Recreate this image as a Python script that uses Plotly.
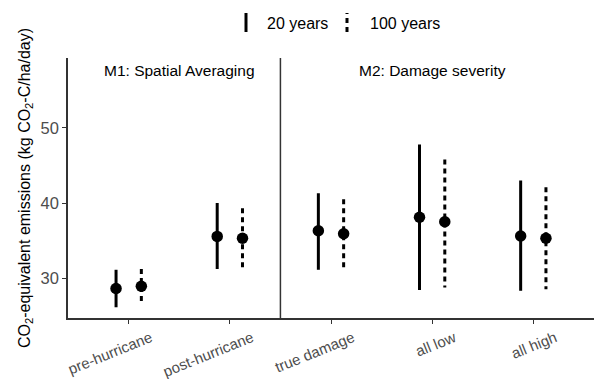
import plotly.graph_objects as go

categories = ["pre-hurricane", "post-hurricane", "true damage", "all low", "all high"]
horizons = ["20 years", "100 years"]

mean_20 = [28.6, 35.55, 36.3, 38.1, 35.6]
low_20 = [26.1, 31.2, 31.1, 28.4, 28.3]
high_20 = [31.1, 40.0, 41.3, 47.8, 43.0]

mean_100 = [28.9, 35.3, 35.9, 37.5, 35.3]
low_100 = [26.4, 31.2, 31.2, 28.75, 28.5]
high_100 = [31.2, 39.3, 40.5, 45.8, 42.1]

panel_labels = ["M1: Spatial Averaging", "M2: Damage severity"]
panel_centers = [1.5, 4.0]
panel_label_y = 57.7
divider_x = 2.5

dodge = 0.125
FONT = "Liberation Sans, Arial, sans-serif"

fig = go.Figure()

series = [
    (mean_20, low_20, high_20, -dodge, "solid"),
    (mean_100, low_100, high_100, dodge, "5px,4px"),
]

for means, lows, highs, off, dash in series:
    xs, ys = [], []
    for i, (lo, hi) in enumerate(zip(lows, highs)):
        xpos = i + 1 + off
        xs += [xpos, xpos, None]
        ys += [hi, lo, None]
    fig.add_trace(go.Scatter(x=xs, y=ys, mode="lines",
                             line=dict(color="black", width=3, dash=dash),
                             showlegend=False, hoverinfo="skip"))
    fig.add_trace(go.Scatter(x=[i + 1 + off for i in range(len(means))], y=means,
                             mode="markers",
                             marker=dict(color="black", size=11.5),
                             showlegend=False))

# panel divider
fig.add_shape(type="line", xref="x", yref="paper", x0=divider_x, x1=divider_x, y0=0, y1=1,
              line=dict(color="#333333", width=1.5))

for txt, cx in zip(panel_labels, panel_centers):
    fig.add_annotation(x=cx, y=panel_label_y, text=txt, showarrow=False,
                       font=dict(family=FONT, size=15.5, color="black"),
                       xanchor="center", yanchor="middle")

# manual legend (vertical keys as in the original)
W, H, L, T = 594, 379, 68, 58
PW, PH = W - L, 379 - 61 - T
def px(xp):
    return (xp - L) / PW
def py(yp):
    return (T + PH - yp) / PH

legend_keys = [(246, "solid", 265), (347, "5px,4px", 368)]
for (kx, dash, tx), lab in zip(legend_keys, horizons):
    fig.add_shape(type="line", xref="paper", yref="paper", x0=px(kx), x1=px(kx),
                  y0=py(32), y1=py(13), line=dict(color="black", width=3, dash=dash))
    fig.add_annotation(xref="paper", yref="paper", x=px(tx), y=py(23), text=lab,
                       showarrow=False, xanchor="left", yanchor="middle",
                       font=dict(family=FONT, size=16, color="black"))

fig.update_layout(
    width=W, height=H,
    margin=dict(l=L, r=0, t=T, b=61, autoexpand=False),
    plot_bgcolor="white", paper_bgcolor="white",
    font=dict(family=FONT, size=16, color="black"),
    showlegend=False,
)
fig.update_xaxes(
    range=[0.4, 5.6], tickmode="array", tickvals=[1, 2, 3, 4, 5], ticktext=categories,
    tickangle=-22, ticklabelshift=22, ticklabelstandoff=0,
    showgrid=False, zeroline=False, automargin=False,
    showline=True, linecolor="#333333", linewidth=1.5,
    ticks="outside", ticklen=4, tickcolor="#333333", tickwidth=1,
    tickfont=dict(family=FONT, size=15, color="#4D4D4D"),
)
fig.update_yaxes(
    range=[24.67, 59.33], tickvals=[30, 40, 50], automargin=False,
    showgrid=False, zeroline=False,
    showline=True, linecolor="#333333", linewidth=1.5,
    ticks="outside", ticklen=4, tickcolor="#333333", tickwidth=1,
    tickfont=dict(family=FONT, size=16.5, color="#4D4D4D"),
    title=dict(text="CO<sub>2</sub>-equivalent emissions (kg CO<sub>2</sub>-C/ha/day)",
               font=dict(family=FONT, size=16, color="black"), standoff=6),
)

fig.write_html("out.html")
